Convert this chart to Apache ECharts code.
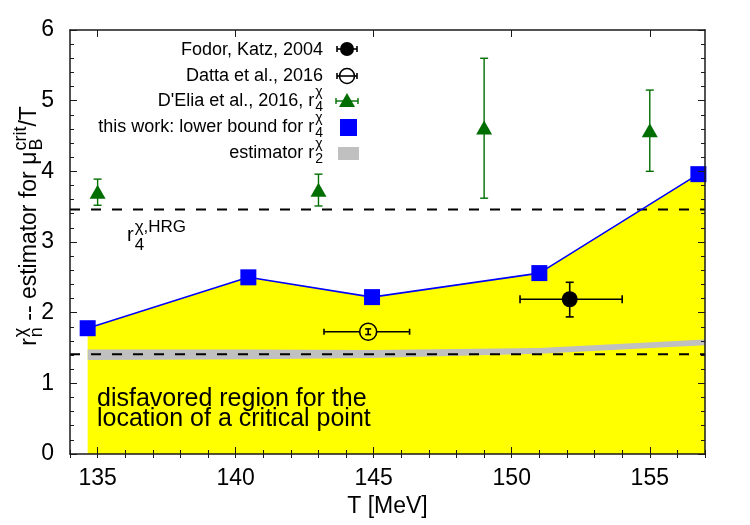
<!DOCTYPE html>
<html>
<head>
<meta charset="utf-8">
<script src="https://cdn.jsdelivr.net/npm/echarts@6/dist/echarts.min.js"></script>
<style>
html,body{margin:0;padding:0;background:#fff;}
#chart{width:750px;height:525px;}
</style>
</head>
<body>
<div id="chart"></div>
<script>
// ---------------- data ----------------
const xTicksMajor = [135, 140, 145, 150, 155];
const yTicks = [0, 1, 2, 3, 4, 5, 6];

// this work: lower bound for r4
const T_this = [134.64, 140.46, 144.94, 151.0, 156.76];
const r4_this = [1.78, 2.50, 2.22, 2.56, 3.96];

// disfavored (yellow) region boundary
const T_region = [134.64, 140.46, 144.94, 151.0, 156.76, 157.0];
const r_region = [1.78, 2.50, 2.22, 2.56, 3.96, 4.00];

// estimator r2 band
const T_r2 = [134.64, 140.46, 144.94, 151.0, 157.0];
const r2_lo = [1.33, 1.34, 1.36, 1.42, 1.54];
const r2_hi = [1.48, 1.48, 1.47, 1.50, 1.62];

// HRG reference values
const r4_HRG = 3.46;
const r2_HRG = 1.41;
const T_span = [134, 157];

// Fodor, Katz 2004: [T, r, Tlo, Thi, rlo, rhi]
const fodor = [[152.1, 2.19, 150.3, 154.0, 1.94, 2.43]];
// Datta et al. 2016
const datta = [[144.8, 1.73, 143.2, 146.3, 1.69, 1.77]];
// D'Elia et al. 2016, r4
const delia_T = [135.0, 143.0, 149.0, 155.0];
const delia_r = [3.71, 3.74, 4.62, 4.58];
const delia_lo = [3.52, 3.51, 3.62, 4.00];
const delia_hi = [3.89, 3.96, 5.60, 5.15];

// ---------------- helpers ----------------
const FONT = '"Liberation Sans", Arial, Helvetica, sans-serif';
const ctx2d = document.createElement('canvas').getContext('2d');
function tw(s, size) { ctx2d.font = size + 'px ' + FONT; return ctx2d.measureText(s).width; }

function mathText(tokens, o) {
  const parts = [];
  let cx = 0;
  tokens.forEach(tok => {
    parts.push({text: tok.t, x: cx, y: 0, size: o.size});
    cx += tw(tok.t, o.size);
    let w = 0;
    if (tok.sup) { parts.push({text: tok.sup, x: cx + 1, y: o.supDy, size: o.ssize}); w = Math.max(w, tw(tok.sup, o.ssize) + 1); }
    if (tok.sub) { parts.push({text: tok.sub, x: cx + 1, y: o.subDy, size: o.ssize}); w = Math.max(w, tw(tok.sub, o.ssize) + 1); }
    cx += w;
  });
  const off = o.align === 'right' ? -cx : (o.align === 'center' ? -cx / 2 : 0);
  return {
    type: 'group', x: o.x, y: o.y, rotation: o.rotation || 0, silent: true, z: 100,
    children: parts.map(p => ({
      type: 'text', x: p.x + off, y: p.y,
      style: {text: p.text, fontSize: p.size, fontFamily: FONT, fill: '#000', align: 'left', verticalAlign: 'middle'}
    }))
  };
}

// error bars; gap = half-width (px) left open around the marker on the horizontal bar
function errRender(color, lw, capW, gap) {
  return function (params, api) {
    const x = api.value(0), y = api.value(1);
    const xlo = api.value(2), xhi = api.value(3), ylo = api.value(4), yhi = api.value(5);
    const ch = [];
    const st = {stroke: color, lineWidth: lw};
    if (xlo !== xhi) {
      const a = api.coord([xlo, y]), b = api.coord([xhi, y]), c = api.coord([x, y]);
      if (gap) {
        ch.push({type: 'line', shape: {x1: a[0], y1: a[1], x2: c[0] - gap, y2: a[1]}, style: st});
        ch.push({type: 'line', shape: {x1: c[0] + gap, y1: b[1], x2: b[0], y2: b[1]}, style: st});
      } else {
        ch.push({type: 'line', shape: {x1: a[0], y1: a[1], x2: b[0], y2: b[1]}, style: st});
      }
      ch.push({type: 'line', shape: {x1: a[0], y1: a[1] - capW, x2: a[0], y2: a[1] + capW}, style: st});
      ch.push({type: 'line', shape: {x1: b[0], y1: b[1] - capW, x2: b[0], y2: b[1] + capW}, style: st});
    }
    if (ylo !== yhi) {
      const a = api.coord([x, ylo]), b = api.coord([x, yhi]);
      ch.push({type: 'line', shape: {x1: a[0], y1: a[1], x2: b[0], y2: b[1]}, style: st});
      ch.push({type: 'line', shape: {x1: a[0] - capW, y1: a[1], x2: a[0] + capW, y2: a[1]}, style: st});
      ch.push({type: 'line', shape: {x1: b[0] - capW, y1: b[1], x2: b[0] + capW, y2: b[1]}, style: st});
    }
    return {type: 'group', children: ch};
  };
}

const GREEN = '#006e00';
const axisCol = '#1a1a1a';

// ---------------- chart ----------------
const chart = echarts.init(document.getElementById('chart'), null, {renderer: 'canvas'});

const deliaData = delia_T.map((t, i) => [t, delia_r[i], t, t, delia_lo[i], delia_hi[i]]);

const baseX = {type: 'value', min: T_span[0], max: T_span[1], splitLine: {show: false}, gridIndex: 0, z: 20};
const baseY = {type: 'value', min: yTicks[0], max: yTicks[yTicks.length - 1], interval: 1, splitLine: {show: false}, gridIndex: 0, z: 20};

const option = {
  animation: false,
  backgroundColor: '#fff',
  grid: {left: 70, right: 45, top: 30, bottom: 71, containLabel: false},
  xAxis: [
    Object.assign({}, baseX, {
      position: 'bottom',
      axisLine: {show: true, onZero: false, lineStyle: {color: axisCol, width: 1.5}},
      axisTick: {show: true, inside: true, length: 7, customValues: xTicksMajor, lineStyle: {color: axisCol, width: 1}},
      axisLabel: {show: true, customValues: xTicksMajor, fontSize: 23, fontFamily: FONT, color: '#000', margin: 13},
      name: 'T [MeV]', nameLocation: 'middle', nameGap: 37,
      nameTextStyle: {fontSize: 23, fontFamily: FONT, color: '#000'}
    }),
    Object.assign({}, baseX, {
      position: 'bottom', interval: 1,
      axisLine: {show: false}, axisLabel: {show: false},
      axisTick: {show: true, inside: true, length: 4, lineStyle: {color: axisCol, width: 1}}
    }),
    Object.assign({}, baseX, {
      position: 'top',
      axisLine: {show: true, onZero: false, lineStyle: {color: axisCol, width: 1.5}},
      axisTick: {show: true, inside: true, length: 7, customValues: xTicksMajor, lineStyle: {color: axisCol, width: 1}},
      axisLabel: {show: false}
    }),
    Object.assign({}, baseX, {
      position: 'top', interval: 1,
      axisLine: {show: false}, axisLabel: {show: false},
      axisTick: {show: true, inside: true, length: 4, lineStyle: {color: axisCol, width: 1}}
    })
  ],
  yAxis: [
    Object.assign({}, baseY, {
      position: 'left',
      axisLine: {show: true, onZero: false, lineStyle: {color: axisCol, width: 1.5}},
      axisTick: {show: true, inside: true, length: 7, lineStyle: {color: axisCol, width: 1}},
      minorTick: {show: true, splitNumber: 5, length: 4, lineStyle: {color: axisCol, width: 1}},
      axisLabel: {show: true, fontSize: 23, fontFamily: FONT, color: '#000', margin: 16}
    }),
    Object.assign({}, baseY, {
      position: 'right',
      axisLine: {show: true, onZero: false, lineStyle: {color: axisCol, width: 1.5}},
      axisTick: {show: true, inside: true, length: 7, lineStyle: {color: axisCol, width: 1}},
      minorTick: {show: true, splitNumber: 5, length: 4, lineStyle: {color: axisCol, width: 1}},
      axisLabel: {show: false}
    })
  ],
  series: [
    {
      name: 'disfavored region', type: 'line', z: 1,
      data: T_region.map((t, i) => [t, r_region[i]]),
      showSymbol: false, symbol: 'none',
      lineStyle: {width: 0, color: '#ffff00'},
      areaStyle: {color: '#ffff00', opacity: 1}
    },
    {
      name: 'estimator r2', type: 'custom', z: 2,
      data: [[T_r2[0], r2_lo[0]]],
      renderItem: function (params, api) {
        const pts = [];
        for (let i = 0; i < T_r2.length; i++) pts.push(api.coord([T_r2[i], r2_hi[i]]));
        for (let i = T_r2.length - 1; i >= 0; i--) pts.push(api.coord([T_r2[i], r2_lo[i]]));
        return {type: 'polygon', shape: {points: pts}, style: {fill: '#c0c0c0'}};
      }
    },
    {
      name: 'r4 HRG', type: 'line', z: 3, symbol: 'none',
      data: T_span.map(t => [t, r4_HRG]),
      lineStyle: {color: '#000', width: 2, type: [10, 11]}
    },
    {
      name: 'r2 HRG', type: 'line', z: 3, symbol: 'none',
      data: T_span.map(t => [t, r2_HRG]),
      lineStyle: {color: '#000', width: 2, type: [10, 11]}
    },
    {
      name: 'this work', type: 'line', z: 6,
      data: T_this.map((t, i) => [t, r4_this[i]]),
      symbol: 'rect', symbolSize: 16, showAllSymbol: true,
      itemStyle: {color: '#0000ff', opacity: 1},
      lineStyle: {color: '#0000ff', width: 1.6}
    },
    {
      name: 'Fodor err', type: 'custom', z: 7, data: fodor,
      renderItem: errRender('#000', 1.6, 4, 0)
    },
    {
      name: 'Datta err', type: 'custom', z: 9, data: datta,
      renderItem: errRender('#000', 1.6, 3, 8.5)
    },
    {
      name: "D'Elia err", type: 'custom', z: 7, data: deliaData,
      renderItem: errRender(GREEN, 1.4, 4, 0)
    },
    {
      name: 'Fodor, Katz, 2004', type: 'scatter', z: 8,
      data: fodor.map(d => [d[0], d[1]]),
      symbol: 'circle', symbolSize: 16, itemStyle: {color: '#000', opacity: 1}
    },
    {
      name: 'Datta et al., 2016', type: 'scatter', z: 8,
      data: datta.map(d => [d[0], d[1]]),
      symbol: 'circle', symbolSize: 17,
      itemStyle: {color: 'rgba(0,0,0,0)', borderColor: '#000', borderWidth: 1.6, opacity: 1}
    },
    {
      name: "D'Elia et al., 2016", type: 'scatter', z: 8,
      data: delia_T.map((t, i) => [t, delia_r[i]]),
      symbol: 'triangle', symbolSize: [16, 14], itemStyle: {color: GREEN, opacity: 1}
    }
  ],
  graphic: {elements: []}
};

// ---- text annotations and legend ----
const G = option.graphic.elements;
const FS_L = 18, SS_L = 14;
const legTextX = 323, legSymX = 347;
const rows = [50, 76, 101, 127, 153];
G.push(mathText([{t: 'Fodor, Katz, 2004'}], {x: legTextX, y: rows[0], size: FS_L, ssize: SS_L, supDy: -9, subDy: 6, align: 'right'}));
G.push(mathText([{t: 'Datta et al., 2016'}], {x: legTextX, y: rows[1], size: FS_L, ssize: SS_L, supDy: -9, subDy: 6, align: 'right'}));
G.push(mathText([{t: "D'Elia et al., 2016, r", sup: 'χ', sub: '4'}], {x: legTextX, y: rows[2], size: FS_L, ssize: SS_L, supDy: -9, subDy: 6, align: 'right'}));
G.push(mathText([{t: 'this work: lower bound for r', sup: 'χ', sub: '4'}], {x: legTextX, y: rows[3], size: FS_L, ssize: SS_L, supDy: -9, subDy: 6, align: 'right'}));
G.push(mathText([{t: 'estimator r', sup: 'χ', sub: '2'}], {x: legTextX, y: rows[4], size: FS_L, ssize: SS_L, supDy: -9, subDy: 6, align: 'right'}));

function hbar(cx, cy, half, cap, col, lw) {
  return [
    {type: 'line', shape: {x1: cx - half, y1: cy, x2: cx + half, y2: cy}, style: {stroke: col, lineWidth: lw}, z: 100},
    {type: 'line', shape: {x1: cx - half, y1: cy - cap, x2: cx - half, y2: cy + cap}, style: {stroke: col, lineWidth: lw}, z: 100},
    {type: 'line', shape: {x1: cx + half, y1: cy - cap, x2: cx + half, y2: cy + cap}, style: {stroke: col, lineWidth: lw}, z: 100}
  ];
}
G.push(...hbar(legSymX, rows[0] - 1, 10, 3, '#000', 1.6));
G.push({type: 'circle', shape: {cx: legSymX, cy: rows[0] - 1, r: 7}, style: {fill: '#000'}, z: 101});
G.push({type: 'circle', shape: {cx: legSymX, cy: rows[1], r: 7.5}, style: {fill: 'none', stroke: '#000', lineWidth: 1.6}, z: 101});
G.push(...hbar(legSymX, rows[1], 10, 3, '#000', 1.6));
G.push(...hbar(legSymX, rows[2], 11, 3, GREEN, 1.4));
G.push({type: 'polygon', shape: {points: [[legSymX - 8, rows[2] + 6], [legSymX + 8, rows[2] + 6], [legSymX, rows[2] - 8]]}, style: {fill: GREEN}, z: 101});
G.push({type: 'rect', shape: {x: legSymX - 7, y: rows[3] - 8, width: 17, height: 17}, style: {fill: '#0000ff'}, z: 101});
G.push({type: 'rect', shape: {x: legSymX - 9, y: rows[4] - 6, width: 21, height: 13}, style: {fill: '#c0c0c0'}, z: 101});

G.push(mathText([{t: 'r', sup: 'χ', sub: 'n'}, {t: ' -- estimator for μ', sup: 'crit', sub: 'B'}, {t: '/T'}],
  {x: 30, y: 226, size: 23, ssize: 18, supDy: -9, subDy: 7, align: 'center', rotation: Math.PI / 2}));

G.push(mathText([{t: 'r', sup: 'χ,HRG', sub: '4'}], {x: 127, y: 235, size: 20, ssize: 17, supDy: -8, subDy: 10, align: 'left'}));
G.push(mathText([{t: 'r', sup: 'χ,HRG', sub: '2'}], {x: 128, y: 333, size: 20, ssize: 17, supDy: -8, subDy: 10, align: 'left'}));

G.push({type: 'text', x: 97, y: 399, z: 100, silent: true,
  style: {text: 'disfavored region for the', fontSize: 25, fontFamily: FONT, fill: '#000', align: 'left', verticalAlign: 'middle'}});
G.push({type: 'text', x: 97, y: 419, z: 100, silent: true,
  style: {text: 'location of a critical point', fontSize: 25, fontFamily: FONT, fill: '#000', align: 'left', verticalAlign: 'middle'}});

chart.setOption(option);
</script>
</body>
</html>
